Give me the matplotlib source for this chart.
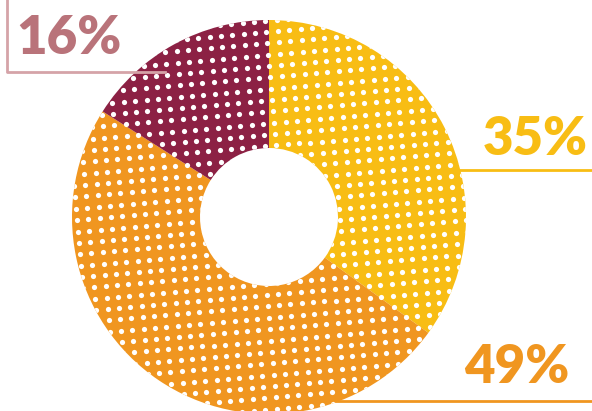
import numpy as np
import matplotlib
matplotlib.use("Agg")
from matplotlib import pyplot as plt
from matplotlib.patches import Wedge

# chart data
labels = ["35%", "49%", "16%"]
shares = [35, 49, 16]
colors = ["#F8BD14", "#F09620", "#8C2144"]
label_colors = ["#F8BD14", "#F09620", "#B9737A"]

W, H = 592, 411
cx, cy = 269, 217          # centre of the ring in pixels (from top)
r_out, r_in = 197, 69

fig = plt.figure(figsize=(W / 100, H / 100), dpi=100)
ax = fig.add_axes([0, 0, 1, 1])

wedges, _ = ax.pie(shares, colors=colors, startangle=90, counterclock=False,
                   radius=r_out, wedgeprops=dict(width=r_out - r_in, linewidth=0),
                   center=(0, 0))
for w in wedges:
    w.set_zorder(2)

# white dot texture on the ring
step = 11.4
g = np.arange(-260, 260, step)
gx, gy = np.meshgrid(g, g)
a = np.deg2rad(5)
dx = gx * np.cos(a) - gy * np.sin(a)
dy = gx * np.sin(a) + gy * np.cos(a)
dots = ax.scatter(dx.ravel(), dy.ravel(), s=14, color="white", linewidths=0, zorder=3)
ring = Wedge((0, 0), r_out, 0, 360, width=r_out - r_in, transform=ax.transData)
dots.set_clip_path(ring)

ax.set_xlim(-cx, W - cx)
ax.set_ylim(-(H - cy), cy)
ax.set_aspect("auto")
ax.axis("off")

font = dict(family=["Lato", "DejaVu Sans"], fontweight="heavy", fontsize=38)

def px(x, y):
    return x - cx, cy - y

# 35% label
ax.plot(*zip(px(430, 170), px(592, 170)), color=label_colors[0], lw=2, zorder=1)
ax.text(*px(588, 155), labels[0], color=label_colors[0], ha="right", va="baseline", **font)

# 49% label
ax.plot(*zip(px(300, 401), px(592, 401)), color=label_colors[1], lw=2, zorder=1)
ax.text(*px(569, 383), labels[1], color=label_colors[1], ha="right", va="baseline", **font)

# 16% label with bracket
ax.plot(*zip(px(7, 0), px(7, 72), px(165, 72)), color="#D5A3A8", lw=2, zorder=4)
ax.text(*px(16, 54), labels[2], color=label_colors[2], ha="left", va="baseline", **font)

fig.savefig("out.png", dpi=100)
